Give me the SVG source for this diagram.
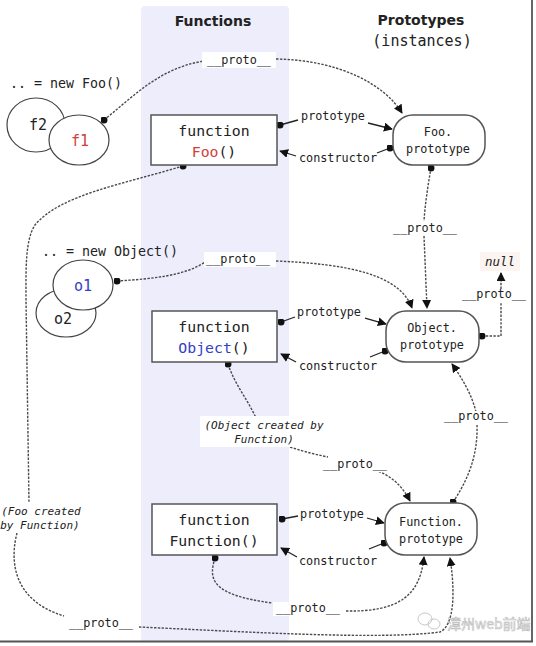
<svg xmlns="http://www.w3.org/2000/svg" width="536" height="646" viewBox="0 0 536 646">
<defs>
<style>
.mono{font-family:"DejaVu Sans Mono","Liberation Mono",monospace;fill:#222}
.hd{font-family:"DejaVu Sans","Liberation Sans",sans-serif;font-weight:bold;font-size:14px;fill:#222}
.box{fill:#fff;stroke:#555;stroke-width:1.5}
.ell{fill:#fff;stroke:#444;stroke-width:1.2}
.solid{fill:none;stroke:#222;stroke-width:1.3}
.dash{fill:none;stroke:#4a4a4a;stroke-width:1.4;stroke-dasharray:2.4 1.4}
.lbl{font-size:11.8px;text-anchor:middle}
.it{font-size:11px;font-style:italic;text-anchor:middle}
.red{fill:#d0403a}
.blue{fill:#3340c8}
.bg{fill:#fff}
</style>
<marker id="arr" viewBox="0 0 10 10" refX="9" refY="5" markerWidth="9" markerHeight="9" markerUnits="userSpaceOnUse" orient="auto">
<path d="M0,0 L10,5 L0,10 z" fill="#111"/>
</marker>
<marker id="dot" viewBox="0 0 10 10" refX="5" refY="5" markerWidth="7" markerHeight="7" markerUnits="userSpaceOnUse">
<circle cx="5" cy="5" r="5" fill="#111"/>
</marker>
</defs>
<rect x="0" y="0" width="536" height="646" fill="#fff"/>
<rect x="141" y="6" width="148" height="636" rx="4" fill="#ededfc"/>
<line x1="532" y1="0" x2="532" y2="642" stroke="#666" stroke-width="2"/>
<line x1="0" y1="641.5" x2="533" y2="641.5" stroke="#555" stroke-width="2"/>

<text class="hd" x="213" y="26" text-anchor="middle">Functions</text>
<text class="hd" x="421" y="25" text-anchor="middle">Prototypes</text>
<text class="mono" x="422" y="46" text-anchor="middle" font-size="15">(instances)</text>

<g id="connectors">
<path class="dash" marker-start="url(#dot)" d="M104,120 C135,95 160,68 204,61"/>
<path class="dash" marker-end="url(#arr)" d="M276,59 C340,60 385,85 402,113"/>
<path class="solid" marker-start="url(#dot)" d="M280,125 L298,120"/>
<path class="solid" marker-end="url(#arr)" d="M368,123 L392,129"/>
<path class="solid" marker-start="url(#dot)" d="M390,148 L377,153"/>
<path class="solid" marker-end="url(#arr)" d="M296,156 L280,151"/>
<path class="dash" marker-start="url(#dot)" d="M431,168 C428,185 425,205 424,221"/>
<path class="dash" marker-end="url(#arr)" d="M424,236 C425,260 426,285 427,308"/>
<path class="dash" marker-start="url(#dot)" d="M117,281 C150,279 185,276 205,262"/>
<path class="dash" marker-end="url(#arr)" d="M276,261 C350,264 400,275 412,308"/>
<path class="solid" marker-start="url(#dot)" d="M281,322 L295,317"/>
<path class="solid" marker-end="url(#arr)" d="M365,318 L386,324"/>
<path class="solid" marker-start="url(#dot)" d="M385,351 L370,357"/>
<path class="solid" marker-end="url(#arr)" d="M296,362 L281,354"/>
<path class="dash" marker-start="url(#dot)" d="M482,336 L501,336 L501,302"/>
<path class="dash" marker-end="url(#arr)" d="M501,289 L501,273"/>
<path class="dash" marker-start="url(#dot)" d="M453,502 C468,480 478,455 477,425"/>
<path class="dash" marker-end="url(#arr)" d="M476,412 C472,395 462,378 452,364"/>
<path class="dash" marker-start="url(#dot)" d="M228,364 C235,385 248,400 256,418"/>
<path class="dash" d="M290,447 C305,452 318,455 328,457"/>
<path class="dash" marker-end="url(#arr)" d="M375,470 C390,475 402,485 410,501"/>
<path class="solid" marker-start="url(#dot)" d="M282,519 L298,516"/>
<path class="solid" marker-end="url(#arr)" d="M367,518 L384,523"/>
<path class="solid" marker-start="url(#dot)" d="M384,543 L369,549"/>
<path class="solid" marker-end="url(#arr)" d="M297,557 L281,548"/>
<path class="dash" marker-start="url(#dot)" d="M215,558 C208,580 212,595 272,603"/>
<path class="dash" marker-end="url(#arr)" d="M346,611 C400,612 420,595 424,557"/>
<path class="dash" marker-start="url(#dot)" d="M183,166 C120,185 60,195 35,225 C25,240 26,270 26,300 L29,503"/>
<path class="dash" d="M17,533 C10,560 12,600 64,616"/>
<path class="dash" marker-end="url(#arr)" d="M139,627 C250,632 380,640 440,632 C455,625 455,590 450,558"/>
</g>

<g id="label-proto-f1"><rect class="bg" x="202" y="52" width="74" height="16"/><text class="mono lbl" x="239" y="64">__proto__</text></g>
<g id="label-proto-foop"><rect class="bg" x="393" y="221" width="64" height="15"/><text class="mono lbl" x="425" y="232">__proto__</text></g>
<g id="label-proto-o1"><rect class="bg" x="204" y="252" width="72" height="15"/><text class="mono lbl" x="238" y="263">__proto__</text></g>
<g id="label-proto-objp"><rect class="bg" x="462" y="289" width="64" height="14"/><text class="mono lbl" x="494" y="298">__proto__</text></g>
<g id="label-proto-funcp"><rect class="bg" x="444" y="411" width="65" height="14"/><text class="mono lbl" x="476" y="420">__proto__</text></g>
<g id="label-proto-obj"><rect class="bg" x="322" y="458" width="66" height="14"/><text class="mono lbl" x="355" y="468">__proto__</text></g>
<g id="label-proto-func"><rect class="bg" x="273" y="602" width="70" height="14"/><text class="mono lbl" x="308" y="612">__proto__</text></g>
<g id="label-proto-foo"><rect class="bg" x="66" y="617" width="72" height="14"/><text class="mono lbl" x="101" y="627">__proto__</text></g>

<g id="label-null"><rect x="480" y="252" width="40" height="19" fill="#fbf4f0"/><text class="mono" x="500" y="266" font-size="12.5" font-style="italic" text-anchor="middle">null</text></g>
<g id="label-obj-created"><rect class="bg" x="200" y="416" width="126" height="31"/><text class="mono it" x="264" y="429">(Object created by</text><text class="mono it" x="264" y="443">Function)</text></g>
<g id="label-foo-created"><rect class="bg" x="0" y="503" width="82" height="30"/><text class="mono it" x="41" y="515">(Foo created</text><text class="mono it" x="40" y="529">by Function)</text></g>

<g id="lbls">
<text class="mono lbl" x="333" y="120">prototype</text>
<text class="mono lbl" x="338" y="162">constructor</text>
<text class="mono lbl" x="329" y="316">prototype</text>
<text class="mono lbl" x="338" y="370">constructor</text>
<text class="mono lbl" x="332" y="518">prototype</text>
<text class="mono lbl" x="338" y="565">constructor</text>
</g>

<text class="mono" x="10" y="88" font-size="13.3">.. = new Foo()</text>
<text class="mono" x="42" y="256" font-size="13.3">.. = new Object()</text>

<g id="f2"><ellipse class="ell" cx="36" cy="125" rx="29" ry="27"/><text class="mono" x="38" y="130" font-size="15" text-anchor="middle">f2</text></g>
<g id="f1"><ellipse class="ell" cx="79" cy="140" rx="30" ry="25"/><text class="mono red" x="80" y="146" font-size="15" text-anchor="middle">f1</text></g>
<g id="o2"><ellipse class="ell" cx="66" cy="313" rx="30" ry="24"/><text class="mono" x="63" y="324" font-size="15" text-anchor="middle">o2</text></g>
<g id="o1"><ellipse class="ell" cx="83" cy="285" rx="30" ry="25"/><text class="mono blue" x="83" y="291" font-size="15" text-anchor="middle">o1</text></g>

<g id="Foo"><rect class="box" x="151" y="115" width="126" height="50"/><text class="mono" x="214" y="136" font-size="14.8" text-anchor="middle">function</text><text class="mono" x="214" y="157" font-size="14.8" text-anchor="middle"><tspan class="red">Foo</tspan>()</text></g>
<g id="Object"><rect class="box" x="152" y="311" width="125" height="51"/><text class="mono" x="214" y="332" font-size="14.8" text-anchor="middle">function</text><text class="mono" x="214" y="353" font-size="14.8" text-anchor="middle"><tspan class="blue">Object</tspan>()</text></g>
<g id="Function"><rect class="box" x="152" y="504" width="125" height="51"/><text class="mono" x="214" y="525" font-size="14.8" text-anchor="middle">function</text><text class="mono" x="214" y="546" font-size="14.8" text-anchor="middle">Function()</text></g>

<g id="FooPrototype"><rect class="box" x="393" y="115" width="92" height="50" rx="20"/><text class="mono" x="438" y="136" font-size="11.8" text-anchor="middle">Foo.</text><text class="mono" x="438" y="153" font-size="11.8" text-anchor="middle">prototype</text></g>
<g id="ObjectPrototype"><rect class="box" x="386" y="311" width="93" height="51" rx="20"/><text class="mono" x="432" y="332" font-size="11.8" text-anchor="middle">Object.</text><text class="mono" x="432" y="349" font-size="11.8" text-anchor="middle">prototype</text></g>
<g id="FunctionPrototype"><rect class="box" x="385" y="503" width="92" height="52" rx="20"/><text class="mono" x="431" y="526" font-size="11.8" text-anchor="middle">Function.</text><text class="mono" x="431" y="543" font-size="11.8" text-anchor="middle">prototype</text></g>

<g id="watermark" opacity="0.8">
<ellipse cx="425" cy="619" rx="7" ry="6" fill="none" stroke="#bbb" stroke-width="1"/>
<ellipse cx="434" cy="624" rx="6" ry="5" fill="none" stroke="#bbb" stroke-width="1"/>
<text x="447" y="629" font-family="Noto Sans CJK SC,sans-serif" font-size="14" fill="#fff" stroke="#aaa" stroke-width="0.6">漳州web前端</text>
</g>
</svg>
